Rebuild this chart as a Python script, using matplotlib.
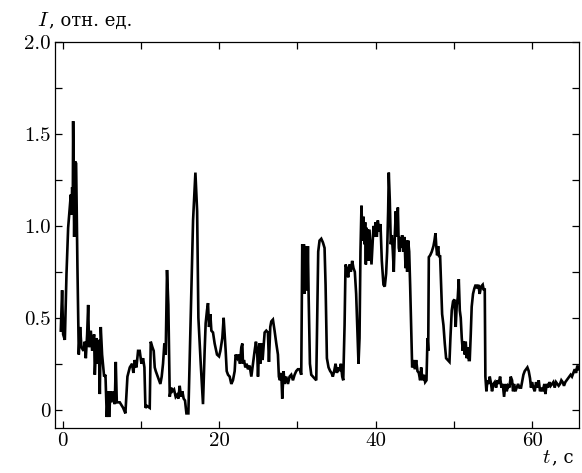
import matplotlib
matplotlib.use("Agg")
import matplotlib.pyplot as plt
from matplotlib.ticker import MultipleLocator

plt.rcParams['mathtext.fontset'] = 'cm'
plt.rcParams['font.family'] = ['cmr10']
plt.rcParams['axes.unicode_minus'] = False
plt.rcParams['axes.formatter.use_mathtext'] = True

# time, s
t = [-0.26, -0.09, 0.04, 0.26, 0.47, 0.68, 0.89, 1.02, 1.11, 1.19, 1.28, 1.32, 1.45, 1.58, 1.70,
     1.87, 2.04, 2.21, 2.38, 2.64, 2.81, 2.94, 3.11, 3.24, 3.36, 3.58, 3.75, 4.00, 4.09, 4.30,
     4.43, 4.60, 4.73, 4.85, 5.02, 5.28, 5.45, 5.62, 5.79, 5.92, 6.09, 6.22, 6.43, 6.64, 6.77,
     6.90, 7.28, 7.71, 8.00, 8.26, 8.56, 8.85, 9.02, 9.19, 9.41, 9.62, 9.83, 10.05, 10.26, 10.43,
     10.56, 10.77, 11.11, 11.24, 11.45, 11.62, 11.75, 11.88, 12.05, 12.30, 12.47, 12.64, 12.81, 12.98, 13.15,
     13.32, 13.49, 13.67, 13.84, 14.00, 14.22, 14.43, 14.60, 14.77, 14.94, 15.11, 15.28, 15.45, 15.62, 15.80,
     16.05, 16.22, 16.43, 16.65, 16.95, 17.17, 17.33, 17.63, 17.92, 18.13, 18.26, 18.43, 18.56, 18.69, 18.86,
     18.99, 19.20, 19.41, 19.71, 19.97, 20.14, 20.39, 20.56, 20.82, 20.95, 21.12, 21.33, 21.54, 21.75, 21.97,
     22.09, 22.31, 22.48, 22.65, 22.82, 22.95, 23.03, 23.16, 23.33, 23.50, 23.67, 23.88, 24.10, 24.31, 24.52,
     24.69, 24.86, 24.95, 25.12, 25.24, 25.37, 25.54, 25.80, 26.01, 26.22, 26.35, 26.52, 26.65, 26.86, 27.07,
     27.29, 27.50, 27.62, 27.76, 27.93, 28.05, 28.22, 28.35, 28.56, 28.78, 28.99, 29.20, 29.42, 29.63, 29.84,
     30.05, 30.27, 30.48, 30.61, 30.73, 30.82, 30.90, 30.99, 31.08, 31.16, 31.25, 31.33, 31.42, 31.59, 31.76,
     31.97, 32.18, 32.40, 32.52, 32.65, 32.82, 33.04, 33.25, 33.46, 33.59, 33.76, 33.97, 34.18, 34.35, 34.52,
     34.69, 34.87, 35.04, 35.21, 35.38, 35.55, 35.72, 35.85, 36.02, 36.14, 36.31, 36.48, 36.65, 36.82, 36.99,
     37.16, 37.33, 37.50, 37.63, 37.80, 37.93, 38.05, 38.18, 38.31, 38.44, 38.56, 38.65, 38.74, 38.82, 38.91,
     38.99, 39.08, 39.20, 39.33, 39.46, 39.59, 39.72, 39.85, 39.97, 40.14, 40.27, 40.44, 40.61, 40.78, 40.99,
     41.16, 41.33, 41.46, 41.59, 41.67, 41.80, 41.93, 42.06, 42.19, 42.31, 42.44, 42.57, 42.70, 42.83, 42.95,
     43.04, 43.17, 43.25, 43.38, 43.51, 43.68, 43.81, 43.93, 44.02, 44.15, 44.28, 44.40, 44.53, 44.66, 44.83,
     45.00, 45.17, 45.34, 45.51, 45.68, 45.81, 45.98, 46.15, 46.32, 46.49, 46.62, 46.71, 46.79, 46.96, 47.17,
     47.38, 47.51, 47.64, 47.76, 47.85, 47.98, 48.11, 48.23, 48.36, 48.49, 48.66, 48.83, 49.00, 49.21, 49.43,
     49.55, 49.72, 49.89, 50.06, 50.23, 50.36, 50.49, 50.62, 50.75, 50.87, 51.00, 51.13, 51.26, 51.38, 51.51,
     51.64, 51.77, 51.90, 52.02, 52.15, 52.27, 52.44, 52.61, 52.78, 52.95, 53.12, 53.29, 53.47, 53.68, 53.81,
     53.94, 54.02, 54.15, 54.28, 54.45, 54.58, 54.75, 54.87, 55.05, 55.22, 55.39, 55.56, 55.73, 55.90, 56.07,
     56.24, 56.41, 56.58, 56.75, 56.92, 57.09, 57.26, 57.43, 57.56, 57.68, 57.85, 58.03, 58.20, 58.37, 58.58,
     58.71, 58.88, 59.05, 59.22, 59.39, 59.56, 59.73, 59.85, 59.98, 60.15, 60.33, 60.50, 60.67, 60.84, 61.01,
     61.18, 61.35, 61.56, 61.69, 61.86, 62.03, 62.20, 62.37, 62.54, 62.71, 62.88, 63.05, 63.22, 63.39, 63.56,
     63.73, 63.90, 64.07, 64.24, 64.41, 64.58, 64.75, 64.92, 65.09, 65.27, 65.44, 65.61, 65.78, 65.95]

# intensity, rel. units
I = [0.43, 0.65, 0.41, 0.38, 0.74, 0.99, 1.10, 1.17, 1.06, 1.21, 1.17, 1.57, 0.94, 1.35, 1.34,
     0.77, 0.30, 0.45, 0.34, 0.32, 0.37, 0.28, 0.41, 0.57, 0.34, 0.43, 0.32, 0.41, 0.19, 0.39,
     0.25, 0.38, 0.085, 0.45, 0.30, 0.18, 0.19, -0.04, 0.10, -0.04, 0.10, 0.04, 0.10, 0.03, 0.26,
     0.04, 0.04, 0.01, -0.02, 0.18, 0.23, 0.25, 0.20, 0.27, 0.23, 0.32, 0.32, 0.25, 0.28, 0.23,
     0.01, 0.02, 0.01, 0.37, 0.34, 0.32, 0.23, 0.21, 0.19, 0.16, 0.14, 0.18, 0.25, 0.36, 0.30,
     0.76, 0.57, 0.07, 0.12, 0.10, 0.11, 0.07, 0.08, 0.06, 0.13, 0.07, 0.10, 0.06, 0.05, -0.02,
     -0.02, 0.28, 0.65, 1.03, 1.29, 1.08, 0.50, 0.25, 0.03, 0.32, 0.47, 0.54, 0.58, 0.45, 0.52,
     0.43, 0.42, 0.36, 0.30, 0.29, 0.32, 0.39, 0.50, 0.32, 0.21, 0.19, 0.18, 0.14, 0.16, 0.21,
     0.30, 0.28, 0.30, 0.25, 0.34, 0.36, 0.25, 0.27, 0.23, 0.25, 0.22, 0.24, 0.18, 0.25, 0.32,
     0.37, 0.30, 0.18, 0.36, 0.25, 0.36, 0.27, 0.42, 0.43, 0.42, 0.26, 0.45, 0.48, 0.49, 0.43,
     0.36, 0.30, 0.18, 0.16, 0.20, 0.06, 0.21, 0.14, 0.18, 0.14, 0.18, 0.19, 0.16, 0.19, 0.21,
     0.22, 0.22, 0.19, 0.90, 0.65, 0.90, 0.63, 0.89, 0.65, 0.89, 0.65, 0.89, 0.63, 0.25, 0.19,
     0.18, 0.17, 0.16, 0.50, 0.86, 0.92, 0.93, 0.91, 0.88, 0.68, 0.28, 0.23, 0.21, 0.20, 0.18,
     0.21, 0.25, 0.20, 0.23, 0.21, 0.25, 0.18, 0.16, 0.46, 0.79, 0.77, 0.72, 0.79, 0.75, 0.81,
     0.77, 0.75, 0.63, 0.46, 0.25, 0.39, 0.86, 1.11, 0.92, 1.05, 0.90, 1.02, 0.79, 0.99, 0.85,
     0.98, 0.81, 0.98, 0.88, 0.79, 0.90, 1.00, 0.94, 1.02, 0.94, 1.03, 0.97, 1.01, 0.81, 0.68,
     0.67, 0.74, 0.86, 1.08, 1.29, 1.14, 0.90, 0.95, 0.86, 0.75, 0.95, 1.08, 0.94, 1.10, 0.88,
     0.86, 0.94, 0.88, 0.95, 0.86, 0.94, 0.77, 0.92, 0.75, 0.92, 0.86, 0.68, 0.46, 0.23, 0.27,
     0.22, 0.27, 0.21, 0.20, 0.16, 0.23, 0.16, 0.19, 0.15, 0.16, 0.39, 0.32, 0.83, 0.84, 0.86,
     0.89, 0.92, 0.96, 0.88, 0.84, 0.89, 0.83, 0.84, 0.68, 0.52, 0.46, 0.36, 0.28, 0.27, 0.26,
     0.39, 0.54, 0.59, 0.60, 0.45, 0.57, 0.61, 0.71, 0.54, 0.50, 0.39, 0.32, 0.37, 0.30, 0.37,
     0.28, 0.34, 0.27, 0.27, 0.41, 0.56, 0.63, 0.66, 0.68, 0.66, 0.68, 0.63, 0.67, 0.68, 0.65,
     0.66, 0.18, 0.10, 0.16, 0.14, 0.18, 0.14, 0.10, 0.14, 0.15, 0.12, 0.16, 0.14, 0.18, 0.12,
     0.14, 0.07, 0.14, 0.10, 0.13, 0.12, 0.18, 0.16, 0.10, 0.14, 0.10, 0.12, 0.14, 0.12, 0.12,
     0.15, 0.19, 0.21, 0.22, 0.23, 0.21, 0.17, 0.12, 0.15, 0.12, 0.10, 0.15, 0.12, 0.16, 0.10,
     0.12, 0.10, 0.14, 0.085, 0.14, 0.12, 0.15, 0.13, 0.14, 0.15, 0.12, 0.15, 0.14, 0.13, 0.14,
     0.16, 0.15, 0.13, 0.15, 0.16, 0.17, 0.18, 0.19, 0.18, 0.20, 0.22, 0.20, 0.24, 0.22]

xticks = [0, 20, 40, 60]
xticklabels = ['0', '20', '40', '60']
yticks = [0, 0.5, 1.0, 1.5, 2.0]
yticklabels = ['0', '0.5', '1.0', '1.5', '2.0']

fig = plt.figure(figsize=(5.82, 4.73), dpi=100)
ax = fig.add_axes([0.0945, 0.095, 0.9005, 0.816])
ax.plot(t, I, color='black', linewidth=1.9, solid_joinstyle='miter')

ax.set_xlim(-1, 66)
ax.set_ylim(-0.1, 2.0)
ax.set_xticks(xticks)
ax.set_xticklabels(xticklabels)
ax.set_yticks(yticks)
ax.set_yticklabels(yticklabels)
ax.xaxis.set_minor_locator(MultipleLocator(10))
ax.yaxis.set_minor_locator(MultipleLocator(0.25))
ax.tick_params(which='both', direction='in', top=True, right=True,
               length=5, width=0.9, labelsize=15, pad=3)
for s in ax.spines.values():
    s.set_linewidth(0.9)

cyr = ['DejaVu Serif']
fig.text(0.064, 0.945, '$I$', fontsize=15, ha='left', va='baseline')
fig.text(0.085, 0.945, ', отн. ед.', fontsize=13, family=cyr, ha='left', va='baseline')
fig.text(0.947, 0.022, '$t$', fontsize=15, ha='right', va='baseline')
fig.text(0.949, 0.022, ', с', fontsize=13, family=cyr, ha='left', va='baseline')

fig.savefig('out.png', dpi=100)
